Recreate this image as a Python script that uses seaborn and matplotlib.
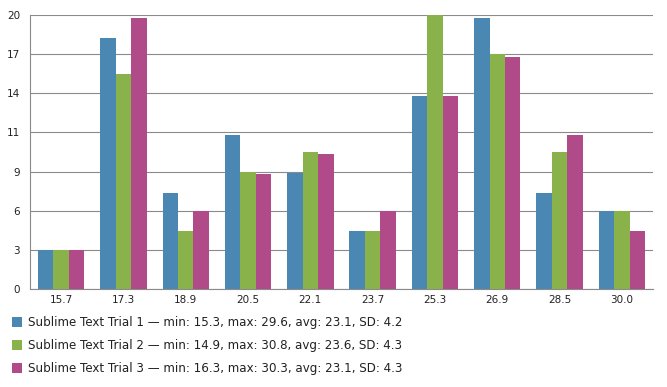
import numpy as np
import pandas as pd
import matplotlib
matplotlib.use("Agg")
import matplotlib.pyplot as plt
from matplotlib.patches import Patch
import seaborn as sns

categories = ["15.7", "17.3", "18.9", "20.5", "22.1", "23.7", "25.3", "26.9", "28.5", "30.0"]
trial1 = [2.86, 18.3, 7.04, 11.27, 8.45, 4.2, 14.06, 19.75, 7.04, 5.69]
trial2 = [2.86, 15.72, 4.26, 8.55, 10.03, 4.26, 20.0, 17.14, 10.03, 5.69]
trial3 = [2.86, 19.75, 5.66, 8.42, 9.88, 5.66, 14.06, 16.9, 11.27, 4.2]
series_names = [
    "Sublime Text Trial 1 \u2014 min: 15.3, max: 29.6, avg: 23.1, SD: 4.2",
    "Sublime Text Trial 2 \u2014 min: 14.9, max: 30.8, avg: 23.6, SD: 4.3",
    "Sublime Text Trial 3 \u2014 min: 16.3, max: 30.3, avg: 23.1, SD: 4.3",
]
ytick_values = [0, 20 / 7, 40 / 7, 60 / 7, 80 / 7, 100 / 7, 120 / 7, 20]
ytick_labels = ["0", "3", "6", "9", "11", "14", "17", "20"]
colors = ["#4a88b3", "#89b34a", "#b04a88"]

rows = []
for name, vals in zip(series_names, [trial1, trial2, trial3]):
    for c, v in zip(categories, vals):
        rows.append({"bin": c, "value": v, "series": name})
df = pd.DataFrame(rows)

sns.set_style("white")
plt.rcParams["font.family"] = ["DejaVu Sans"]

fig = plt.figure(figsize=(6.67, 3.87), dpi=100)
W, H = 667, 387
ax = fig.add_axes([30 / W, 1 - 289 / H, 623 / W, 274 / H])

sns.barplot(data=df, x="bin", y="value", hue="series", order=categories,
            hue_order=series_names, palette=colors, width=0.745, gap=0,
            saturation=1, ax=ax, legend=False, edgecolor="none", linewidth=0)

ax.set_xlim(-0.5, len(categories) - 0.5)
ax.set_ylim(0, 20)
ax.set_yticks(ytick_values)
ax.set_yticklabels(ytick_labels)
ax.set_xlabel("")
ax.set_ylabel("")
ax.yaxis.grid(True, color="#8a8a8a", linewidth=0.8)
ax.set_axisbelow(True)
for s in ["top", "right"]:
    ax.spines[s].set_visible(False)
for s in ["left", "bottom"]:
    ax.spines[s].set_color("#8a8a8a")
    ax.spines[s].set_linewidth(0.8)

ax.set_xticks(np.arange(len(categories)))
ax.set_xticklabels(categories)
ax.set_xticks(np.arange(-0.5, len(categories)), minor=True)
ax.tick_params(axis="x", which="major", length=0, pad=4, labelsize=7.5)
ax.tick_params(axis="x", which="minor", length=5, width=0.8, color="#8a8a8a")
ax.tick_params(axis="y", length=0, pad=7, labelsize=7.5)
for lab in ax.get_xticklabels() + ax.get_yticklabels():
    lab.set_color("#222222")

handles = [Patch(facecolor=c, edgecolor="none") for c in colors]
fig.legend(handles, series_names, loc="upper left",
           bbox_to_anchor=(12 / W, 1 - 316 / H), frameon=False,
           fontsize=8.55, handlelength=0.87, handleheight=0.87, handletextpad=0.45,
           labelspacing=0.84, borderaxespad=0, borderpad=0, labelcolor="#222222")

fig.savefig("out.png", dpi=100)
